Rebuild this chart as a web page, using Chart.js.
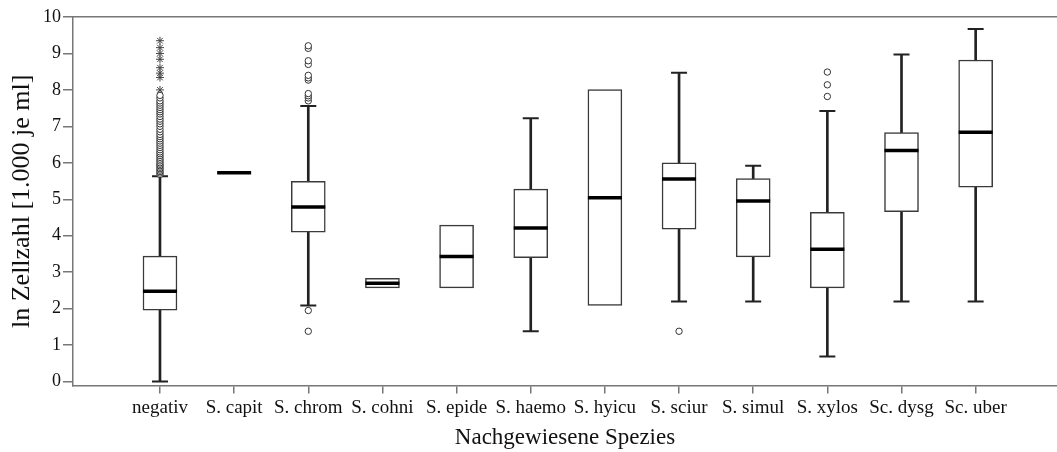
<!DOCTYPE html>
<html>
<head>
<meta charset="utf-8">
<script src="https://cdn.jsdelivr.net/npm/chart.js@4.4.1/dist/chart.umd.min.js"></script>
<style>
  html, body { margin: 0; padding: 0; background: #fff; overflow: hidden; }
  canvas { display: block; }
</style>
</head>
<body>
<canvas id="boxChart" width="1057" height="452"></canvas>
<script>
// categories and box statistics
var categories = ["negativ", "S. capit", "S. chrom", "S. cohni", "S. epide", "S. haemo", "S. hyicu", "S. sciur", "S. simul", "S. xylos", "Sc. dysg", "Sc. uber"];
var q1 = [1.96, 5.73, 4.10, 2.57, 2.57, 3.40, 2.09, 4.18, 3.42, 2.57, 4.66, 5.33];
var median = [2.48, 5.73, 4.79, 2.70, 3.43, 4.21, 5.04, 5.56, 4.95, 3.63, 6.34, 6.84];
var q3 = [3.44, 5.73, 5.49, 2.83, 4.29, 5.28, 8.01, 6.00, 5.57, 4.64, 6.83, 8.82];
var whiskerLow = [0.00, null, 2.09, null, null, 1.38, null, 2.20, 2.20, 0.69, 2.20, 2.20];
var whiskerHigh = [5.63, null, 7.56, null, null, 7.22, null, 8.47, 5.92, 7.42, 8.97, 9.67];

// outliers (circles) and extreme values (stars)
var outliers = [
  [5.68, 5.72, 5.76, 5.80, 5.84, 5.88, 5.92, 5.96, 6.00, 6.05, 6.10, 6.15, 6.20, 6.25, 6.30, 6.36, 6.42, 6.48, 6.54, 6.60, 6.66, 6.72, 6.78, 6.85, 6.92, 7.00, 7.07, 7.14, 7.20, 7.27, 7.34, 7.40, 7.46, 7.52, 7.58, 7.64, 7.70, 7.78, 7.85],
  [],
  [1.95, 1.38, 7.70, 7.78, 7.84, 7.90, 8.27, 8.33, 8.40, 8.70, 8.80, 9.14, 9.21],
  [], [], [], [],
  [1.38],
  [],
  [7.82, 8.14, 8.49],
  [], []
];
var extremes = [
  [8.00, 8.34, 8.46, 8.61, 8.84, 9.00, 9.16, 9.35],
  [], [], [], [], [], [], [], [], [], [], []
];

var yTicks = [0, 1, 2, 3, 4, 5, 6, 7, 8, 9, 10];

var serif = "'Liberation Serif', 'Times New Roman', serif";
var axisGray = "#777";

function boxData() {
  return categories.map(function (c, i) { return { x: i, y: [q1[i], q3[i]] }; });
}
function whiskerData() {
  var out = [];
  categories.forEach(function (c, i) {
    if (whiskerLow[i] !== null) out.push({ x: i, y: [whiskerLow[i], whiskerHigh[i]] });
  });
  return out;
}
function capData() {
  var out = [];
  categories.forEach(function (c, i) {
    if (whiskerLow[i] !== null) {
      out.push({ x: i, y: whiskerLow[i] });
      out.push({ x: i, y: whiskerHigh[i] });
    }
  });
  return out;
}
function pointsFrom(lists) {
  var out = [];
  lists.forEach(function (vals, i) {
    vals.forEach(function (v) { out.push({ x: i, y: v }); });
  });
  return out;
}

var ctx = document.getElementById("boxChart");
var myChart = new Chart(ctx, {
  type: "bar",
  data: {
    datasets: [
      {
        label: "whisker",
        data: whiskerData(),
        backgroundColor: "#222",
        borderWidth: 0,
        barThickness: 2,
        grouped: false,
        order: 3
      },
      {
        label: "box",
        data: boxData(),
        backgroundColor: "#fff",
        borderColor: "#3a3a3a",
        borderWidth: 1.5,
        borderSkipped: false,
        barThickness: 34,
        grouped: false,
        order: 2
      },
      {
        type: "line",
        label: "caps",
        data: capData(),
        showLine: false,
        pointStyle: "line",
        pointRadius: 8,
        pointBorderWidth: 2,
        pointBorderColor: "#222",
        order: 1
      },
      {
        type: "line",
        label: "median",
        data: median.map(function (m, i) { return { x: i, y: m }; }),
        showLine: false,
        pointStyle: "line",
        pointRadius: 17,
        pointBorderWidth: 3.5,
        pointBorderColor: "#000",
        order: 0
      },
      {
        type: "line",
        label: "outliers",
        data: pointsFrom(outliers),
        showLine: false,
        pointStyle: "circle",
        pointRadius: 3.2,
        pointBorderWidth: 1,
        pointBorderColor: "#333",
        pointBackgroundColor: "#fff",
        order: 0
      },
      {
        type: "line",
        label: "extremes",
        data: pointsFrom(extremes),
        showLine: false,
        pointStyle: "star",
        pointRadius: 4,
        pointBorderWidth: 1,
        pointBorderColor: "#444",
        order: 0
      }
    ]
  },
  options: {
    responsive: false,
    animation: false,
    layout: {
      autoPadding: false,
      padding: { top: 17, right: 0, bottom: 0, left: 3 }
    },
    plugins: {
      legend: { display: false },
      tooltip: { enabled: false }
    },
    scales: {
      x: {
        type: "linear",
        position: "bottom",
        offset: false,
        min: -1.173,
        max: 12.097,
        afterBuildTicks: function (scale) {
          scale.ticks = categories.map(function (c, i) { return { value: i }; });
        },
        ticks: {
          autoSkip: false,
          maxRotation: 0,
          padding: 3,
          color: "#111",
          font: { family: serif, size: 19 },
          callback: function (value) { return categories[value]; }
        },
        grid: {
          offset: false,
          drawOnChartArea: false,
          drawTicks: true,
          tickLength: 8,
          color: axisGray,
          lineWidth: 1.5
        },
        border: { display: true, color: axisGray, width: 1.5 },
        title: {
          display: true,
          text: "Nachgewiesene Spezies",
          color: "#111",
          font: { family: serif, size: 23, weight: "normal" },
          padding: { top: 2, bottom: 0 }
        }
      },
      xTop: {
        type: "linear",
        position: "top",
        offset: false,
        min: 0,
        max: 1,
        ticks: { display: false },
        grid: { display: false, drawTicks: false, offset: false },
        border: { display: true, color: axisGray, width: 1.5 }
      },
      y: {
        type: "linear",
        min: -0.11,
        max: 10,
        afterBuildTicks: function (scale) {
          scale.ticks = yTicks.map(function (v) { return { value: v }; });
        },
        ticks: {
          padding: 2,
          color: "#111",
          font: { family: serif, size: 18 }
        },
        grid: {
          drawOnChartArea: false,
          drawTicks: true,
          tickLength: 10,
          color: axisGray,
          lineWidth: 1.5
        },
        border: { display: true, color: axisGray, width: 1.5 },
        title: {
          display: true,
          text: "ln Zellzahl [1.000 je ml]",
          color: "#111",
          font: { family: serif, size: 26, weight: "normal", lineHeight: 1 },
          padding: { top: 6, bottom: 6 }
        }
      }
    }
  }
});
</script>
</body>
</html>
